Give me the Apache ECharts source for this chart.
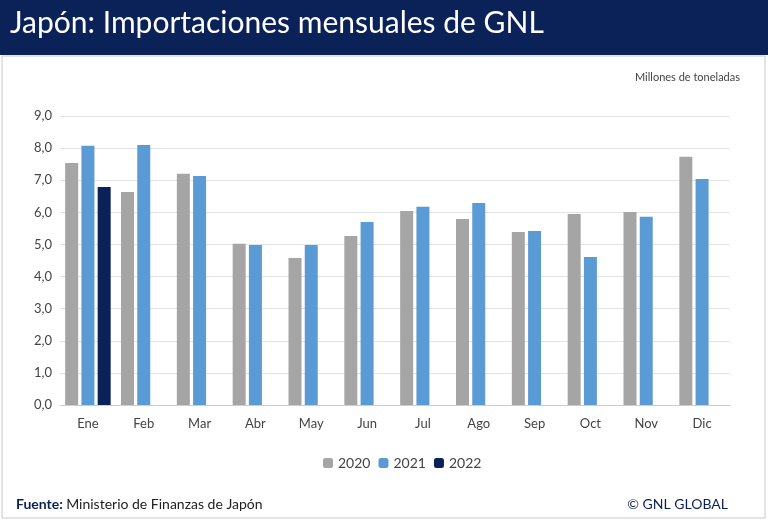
<!DOCTYPE html><html><head><meta charset="utf-8">
<script src="https://cdn.jsdelivr.net/npm/echarts@6/dist/echarts.min.js"></script>
<style>body{margin:0;background:#fff}#c{width:768px;height:521px}</style></head><body><div id="c"></div>
<script>
const categories=['Ene','Feb','Mar','Abr','May','Jun','Jul','Ago','Sep','Oct','Nov','Dic'];
const s2020=[7.54,6.63,7.2,5.02,4.58,5.26,6.04,5.79,5.39,5.95,6.01,7.73];
const s2021=[8.07,8.1,7.13,4.98,4.98,5.7,6.17,6.29,5.42,4.61,5.86,7.04];
const s2022=[6.79,null,null,null,null,null,null,null,null,null,null,null];
const c=echarts.init(document.getElementById('c'));
const F='Lato';
c.setOption({
 animation:false,
 textStyle:{fontFamily:F},
 graphic:[
  {type:'rect',shape:{x:0,y:0,width:768,height:55},style:{fill:'#0b2259'}},
  {type:'text',left:10,top:8,style:{text:'Japón: Importaciones mensuales de GNL',fill:'#fff',font:'30px '+F}},
  {type:'rect',shape:{x:2,y:56,width:763,height:462},style:{fill:'none',stroke:'#c8c8c8',lineWidth:1}},
  {type:'text',right:28,top:72,style:{text:'Millones de toneladas',fill:'#444',font:'11px '+F}},
  {type:'text',left:16,top:497,style:{rich:{b:{fill:'#0b2259',font:'bold 14px '+F},n:{fill:'#222',font:'14px '+F}},text:'{b|Fuente:} {n|Ministerio de Finanzas de Japón}'}},
  {type:'text',right:40,top:497,style:{text:'© GNL GLOBAL',fill:'#0b2259',font:'14px '+F}}
 ],
 legend:{bottom:46,left:318,itemWidth:10,itemHeight:10,textStyle:{fontSize:14,color:'#444'},data:['2020','2021','2022']},
 grid:{left:60,right:38,top:116,bottom:116},
 xAxis:{type:'category',data:categories,axisTick:{show:false},axisLine:{lineStyle:{color:'#ccc'}},axisLabel:{color:'#444',fontSize:13,margin:12}},
 yAxis:{type:'value',min:0,max:9,interval:1,axisLabel:{color:'#444',fontSize:13,formatter:v=>v.toFixed(1).replace('.',',')},splitLine:{lineStyle:{color:'#e3e3e3'}}},
 series:[
  {name:'2020',type:'bar',data:s2020,itemStyle:{color:'#a5a5a5'},barWidth:13,barGap:'25%'},
  {name:'2021',type:'bar',data:s2021,itemStyle:{color:'#5b9bd5'},barWidth:13},
  {name:'2022',type:'bar',data:s2022,itemStyle:{color:'#0b2259'},barWidth:13}
 ]
});
</script></body></html>
